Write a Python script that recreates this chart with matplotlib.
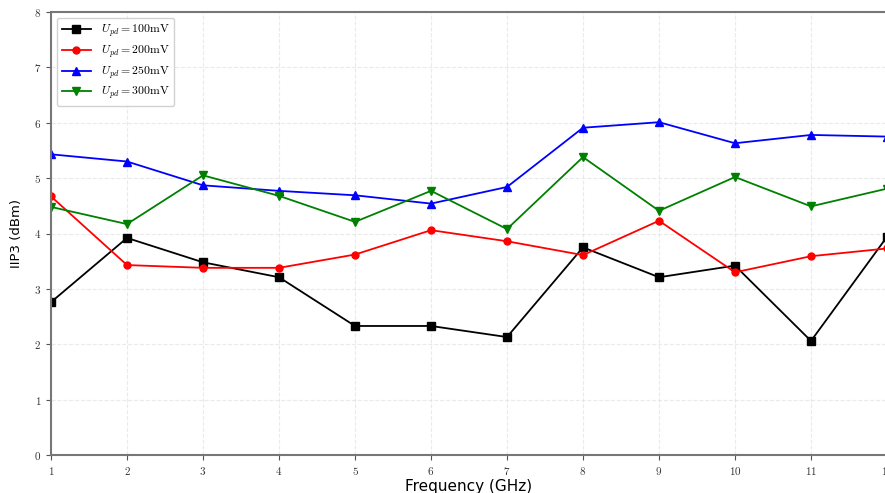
import matplotlib
matplotlib.use("Agg")
import matplotlib.pyplot as plt

plt.rcParams['mathtext.fontset'] = 'cm'

freq = [1, 2, 3, 4, 5, 6, 7, 8, 9, 10, 11, 12]
iip3_100 = [2.76, 3.92, 3.48, 3.21, 2.33, 2.33, 2.13, 3.75, 3.21, 3.42, 2.06, 3.94]
iip3_200 = [4.67, 3.43, 3.38, 3.38, 3.62, 4.06, 3.86, 3.61, 4.23, 3.30, 3.59, 3.73]
iip3_250 = [5.43, 5.30, 4.87, 4.77, 4.69, 4.54, 4.84, 5.91, 6.01, 5.63, 5.78, 5.75]
iip3_300 = [4.48, 4.17, 5.05, 4.68, 4.21, 4.77, 4.08, 5.38, 4.41, 5.02, 4.49, 4.81]

labels = [r'$U_{pd}=100\mathrm{mV}$', r'$U_{pd}=200\mathrm{mV}$',
          r'$U_{pd}=250\mathrm{mV}$', r'$U_{pd}=300\mathrm{mV}$']

fig = plt.figure(figsize=(8.85, 4.93), dpi=100)
ax = fig.add_axes([51/885, 38/493, 836/885, 443/493])

ax.plot(freq, iip3_100, color='black', marker='s', markersize=5.5, linewidth=1.3, label=labels[0])
ax.plot(freq, iip3_200, color='red', marker='o', markersize=5, linewidth=1.3, label=labels[1])
ax.plot(freq, iip3_250, color='blue', marker='^', markersize=5.5, linewidth=1.3, label=labels[2])
ax.plot(freq, iip3_300, color='green', marker='v', markersize=5.5, linewidth=1.3, label=labels[3])

ax.set_xlim(1, 12)
ax.set_ylim(0, 8)
ax.set_xticks(freq)
ax.set_xticklabels([f'${f}$' for f in freq], fontsize=8)
ax.set_yticks(range(0, 9))
ax.set_yticklabels([f'${v}$' for v in range(0, 9)], fontsize=8)
ax.set_xlabel('Frequency (GHz)', fontsize=11, labelpad=2)
ax.set_ylabel('IIP3 (dBm)', fontsize=9.5, labelpad=8)
ax.grid(True, color='#dddddd', linestyle='--', linewidth=0.8, alpha=0.6)
for s in ax.spines.values():
    s.set_color('#777777')
    s.set_linewidth(1.5)
ax.tick_params(colors='#555555', labelcolor='#333333')

ax.legend(loc='upper left', fontsize=8.5, labelspacing=0.35, handlelength=2.5,
          framealpha=0.9, edgecolor='#cccccc')

fig.savefig('out.png', dpi=100)
